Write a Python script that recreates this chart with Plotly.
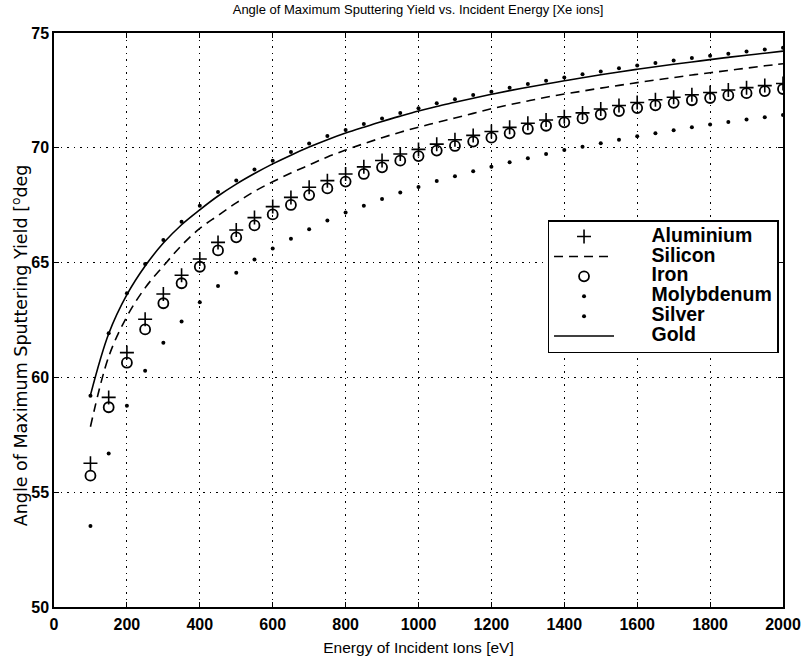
import plotly.graph_objects as go

energy = list(range(100, 2001, 50))

aluminium = [56.26, 59.13, 61.08, 62.53, 63.63, 64.45, 65.16, 65.88, 66.42, 66.96,
             67.44, 67.84, 68.28, 68.57, 68.86, 69.17, 69.45, 69.73, 69.93, 70.16,
             70.35, 70.54, 70.71, 70.89, 71.07, 71.21, 71.35, 71.52, 71.69, 71.84,
             71.97, 72.09, 72.20, 72.31, 72.41, 72.52, 72.62, 72.71, 72.80]
silicon = [57.85, 60.9, 62.65, 63.9, 64.85, 65.75, 66.49, 67.05, 67.6, 68.1,
           68.52, 68.9, 69.25, 69.6, 69.9, 70.18, 70.44, 70.68, 70.9, 71.1,
           71.3, 71.5, 71.7, 71.88, 72.04, 72.2, 72.34, 72.47, 72.6, 72.72,
           72.84, 72.95, 73.06, 73.17, 73.27, 73.37, 73.47, 73.57, 73.66]
iron = [55.72, 58.70, 60.64, 62.09, 63.23, 64.10, 64.82, 65.53, 66.10, 66.62,
        67.10, 67.51, 67.94, 68.23, 68.53, 68.86, 69.15, 69.44, 69.64, 69.88,
        70.08, 70.27, 70.44, 70.63, 70.82, 70.96, 71.11, 71.28, 71.45, 71.60,
        71.73, 71.85, 71.96, 72.07, 72.17, 72.28, 72.38, 72.47, 72.56]
molybdenum = [53.53, 56.69, 58.77, 60.29, 61.51, 62.43, 63.27, 63.98, 64.56, 65.14,
              65.61, 66.04, 66.45, 66.83, 67.18, 67.48, 67.77, 68.05, 68.29, 68.55,
              68.76, 68.98, 69.18, 69.37, 69.54, 69.73, 69.90, 70.05, 70.20, 70.35,
              70.50, 70.63, 70.76, 70.89, 71.01, 71.12, 71.23, 71.33, 71.43]
silver = [59.2, 61.92, 63.66, 64.94, 65.98, 66.78, 67.48, 68.07, 68.58, 69.06,
          69.44, 69.82, 70.19, 70.51, 70.78, 71.04, 71.28, 71.52, 71.72, 71.94,
          72.11, 72.30, 72.44, 72.62, 72.78, 72.92, 73.06, 73.20, 73.32, 73.46,
          73.58, 73.69, 73.80, 73.91, 74.01, 74.10, 74.19, 74.28, 74.36]
gold = [59.23, 61.9, 63.6, 64.85, 65.85, 66.65, 67.3, 67.9, 68.42, 68.88,
        69.3, 69.68, 70.03, 70.35, 70.64, 70.9, 71.15, 71.38, 71.6, 71.8,
        71.98, 72.16, 72.33, 72.49, 72.64, 72.78, 72.92, 73.05, 73.18, 73.3,
        73.42, 73.53, 73.64, 73.74, 73.84, 73.94, 74.03, 74.12, 74.21]

x_ticks = [0, 200, 400, 600, 800, 1000, 1200, 1400, 1600, 1800, 2000]
y_ticks = [50, 55, 60, 65, 70, 75]

FONT = "Liberation Sans, Arial, sans-serif"
PAD = "\u00a0" * 6


def legend_name(s):
    return '<span style="font-size:19.5px"><b>' + PAD + s + '</b></span>'


fig = go.Figure()
fig.add_trace(go.Scatter(x=energy, y=aluminium, mode="markers", name=legend_name("Aluminium"),
                         marker=dict(symbol="cross-thin", size=10, color="black",
                                     line=dict(color="black", width=1.6))))
fig.add_trace(go.Scatter(x=energy, y=silicon, mode="lines", name=legend_name("Silicon"),
                         line=dict(color="black", width=1.6, dash="9px,6px"),
                         line_shape="spline"))
fig.add_trace(go.Scatter(x=energy, y=iron, mode="markers", name=legend_name("Iron"),
                         marker=dict(symbol="circle-open", size=10, color="black",
                                     line=dict(color="black", width=1.8))))
fig.add_trace(go.Scatter(x=energy, y=molybdenum, mode="markers", name=legend_name("Molybdenum"),
                         marker=dict(symbol="circle", size=4, color="black")))
fig.add_trace(go.Scatter(x=energy, y=silver, mode="markers", name=legend_name("Silver"),
                         marker=dict(symbol="circle", size=4, color="black")))
fig.add_trace(go.Scatter(x=energy, y=gold, mode="lines", name=legend_name("Gold"),
                         line=dict(color="black", width=1.6), line_shape="spline"))

axis_common = dict(
    showline=True, linecolor="black", linewidth=1.5, mirror="ticks",
    ticks="inside", ticklen=5, tickcolor="black", tickwidth=1,
    showgrid=True, gridcolor="black", gridwidth=1, griddash="1.5px,5px",
    zeroline=False, automargin=False,
    tickfont=dict(family=FONT, size=16, color="black", weight="bold"),
)

fig.update_xaxes(range=[0, 2000], tickvals=x_ticks, ticklabelstandoff=2, domain=[0, 1],
                 title=dict(text="Energy of Incident Ions [eV]",
                            font=dict(family=FONT, size=15.5, color="black"), standoff=14),
                 **axis_common)
fig.update_yaxes(range=[50, 75], tickvals=y_ticks, domain=[0, 1], **axis_common)

fig.add_annotation(text="Angle of Maximum Sputtering Yield [<sup>o</sup>deg",
                   xref="paper", yref="paper", x=-0.0466, y=0.456,
                   xanchor="center", yanchor="middle", textangle=-90, showarrow=False,
                   font=dict(family="DejaVu Sans, sans-serif", size=17.5, color="black"))

fig.update_layout(
    width=804, height=656, autosize=False,
    margin=dict(l=54, r=21, t=33, b=49),
    paper_bgcolor="white", plot_bgcolor="white",
    title=dict(text="Angle of Maximum Sputtering Yield vs. Incident Energy [Xe ions]",
               font=dict(family=FONT, size=13, color="black"),
               x=0.52, xanchor="center", y=0.992, yanchor="top"),
    legend=dict(x=0.677, xanchor="left", y=0.674, yanchor="top",
                bgcolor="white", bordercolor="black", borderwidth=1.5,
                font=dict(family=FONT, size=13, color="black"),
                itemwidth=60, tracegroupgap=0),
    showlegend=True,
)

fig.write_html("out.html")
